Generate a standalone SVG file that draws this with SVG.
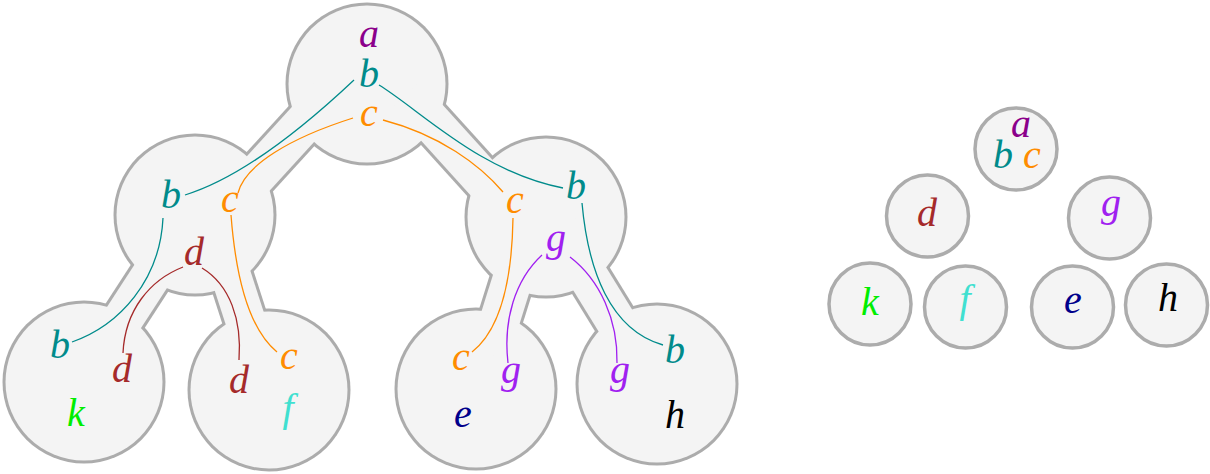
<svg xmlns="http://www.w3.org/2000/svg" width="1210" height="474" viewBox="0 0 1210 474">
<style>
.ol{fill:#acacac}
.olb{stroke:#acacac;stroke-width:46;fill:none}
.fl{fill:#f4f4f4}
.flb{stroke:#f4f4f4;stroke-width:40;fill:none}
.sm{fill:#f4f4f4;stroke:#acacac;stroke-width:3.5}
text{font-family:"Liberation Serif","DejaVu Serif",serif;font-style:italic;font-size:40px;text-anchor:middle}
.ca{fill:#8b008b}.cb{fill:#008b8b}.cc{fill:#ff8c00}.cd{fill:#a52a2a}.cg{fill:#a020f0}
.ck{fill:#00ee00}.cf{fill:#40e0d0}.ce{fill:#00008b}.ch{fill:#000}
.e{fill:none;stroke-width:1.3}
.tb{stroke:#008b8b}.tc{stroke:#ff8c00}.td{stroke:#a52a2a}.tg{stroke:#a020f0}
</style>
<g id="tree-shape">
<g id="outline">
<circle class="ol" cx="367" cy="84" r="81.5"/>
<circle class="ol" cx="195" cy="215" r="81.5"/>
<circle class="ol" cx="546" cy="217" r="81.5"/>
<circle class="ol" cx="84" cy="382" r="81.5"/>
<circle class="ol" cx="269" cy="390" r="81.5"/>
<circle class="ol" cx="476" cy="389" r="81.5"/>
<circle class="ol" cx="657" cy="384" r="81.5"/>
<line class="olb" x1="328.5" y1="96.4" x2="234.1" y2="199.9"/>
<line class="olb" x1="406.2" y1="94.4" x2="506.8" y2="205.5"/>
<line class="olb" x1="171.8" y1="243.9" x2="106.4" y2="344.6"/>
<line class="olb" x1="217.6" y1="234.4" x2="257.6" y2="358.2"/>
<line class="olb" x1="531" y1="220.6" x2="489" y2="354.2"/>
<line class="olb" x1="559" y1="228.9" x2="632.4" y2="348.2"/>
</g>
<g id="fill">
<circle class="fl" cx="367" cy="84" r="78.5"/>
<circle class="fl" cx="195" cy="215" r="78.5"/>
<circle class="fl" cx="546" cy="217" r="78.5"/>
<circle class="fl" cx="84" cy="382" r="78.5"/>
<circle class="fl" cx="269" cy="390" r="78.5"/>
<circle class="fl" cx="476" cy="389" r="78.5"/>
<circle class="fl" cx="657" cy="384" r="78.5"/>
<line class="flb" x1="328.5" y1="96.4" x2="234.1" y2="199.9"/>
<line class="flb" x1="406.2" y1="94.4" x2="506.8" y2="205.5"/>
<line class="flb" x1="171.8" y1="243.9" x2="106.4" y2="344.6"/>
<line class="flb" x1="217.6" y1="234.4" x2="257.6" y2="358.2"/>
<line class="flb" x1="531" y1="220.6" x2="489" y2="354.2"/>
<line class="flb" x1="559" y1="228.9" x2="632.4" y2="348.2"/>
</g>
</g>
<g id="connectors">
<path class="e tb" d="M354,80 C320,112 250,175 185,195"/>
<path class="e tb" d="M379,85 C420,110 480,172 563,188"/>
<path class="e tb" d="M163,218 C160,280 120,325 72,342"/>
<path class="e tb" d="M582,203 C588,270 610,330 663,345"/>
<path class="e tc" d="M353,118 C290,138 245,165 238,193"/>
<path class="e tc" d="M383,120 C440,135 480,165 503,192"/>
<path class="e tc" d="M231,215 C236,280 250,330 277,352"/>
<path class="e tc" d="M513,218 C512,280 500,330 472,352"/>
<path class="e td" d="M183,267 C150,280 125,310 123,353"/>
<path class="e td" d="M202,268 C230,285 242,320 239,360"/>
<path class="e tg" d="M542,255 C515,280 503,320 508,363"/>
<path class="e tg" d="M570,257 C600,280 618,320 617,363"/>
</g>
<g id="node-abc">
<text class="ca" x="369" y="47">a</text>
<text class="cb" x="369" y="87">b</text>
<text class="cc" x="369" y="126">c</text>
</g>
<g id="node-bcd">
<text class="cb" x="171" y="208">b</text>
<text class="cc" x="230" y="212">c</text>
<text class="cd" x="194" y="265">d</text>
</g>
<g id="node-bcg">
<text class="cb" x="576" y="199">b</text>
<text class="cc" x="515" y="213">c</text>
<text class="cg" x="556" y="251">g</text>
</g>
<g id="node-bdk">
<text class="cb" x="60" y="358">b</text>
<text class="cd" x="122" y="382">d</text>
<text class="ck" x="76" y="426">k</text>
</g>
<g id="node-dcf">
<text class="cd" x="239" y="393">d</text>
<text class="cc" x="289" y="369">c</text>
<text class="cf" x="288" y="421">f</text>
</g>
<g id="node-cge">
<text class="cc" x="461" y="370">c</text>
<text class="cg" x="511" y="383">g</text>
<text class="ce" x="463" y="427">e</text>
</g>
<g id="node-gbh">
<text class="cg" x="620" y="383">g</text>
<text class="cb" x="675" y="363">b</text>
<text class="ch" x="675" y="428">h</text>
</g>
<g id="small-a">
<circle class="sm" cx="1016" cy="149" r="41"/>
<text class="ca" x="1021" y="137">a</text>
<text class="cb" x="1003" y="168">b</text>
<text class="cc" x="1032" y="168">c</text>
</g>
<g id="small-d">
<circle class="sm" cx="927.5" cy="216" r="41"/>
<text class="cd" x="927" y="226">d</text>
</g>
<g id="small-g">
<circle class="sm" cx="1109.5" cy="218" r="41"/>
<text class="cg" x="1111" y="216">g</text>
</g>
<g id="small-k">
<circle class="sm" cx="870" cy="304" r="41"/>
<text class="ck" x="870" y="315">k</text>
</g>
<g id="small-f">
<circle class="sm" cx="965.5" cy="307" r="41"/>
<text class="cf" x="965" y="312">f</text>
</g>
<g id="small-e">
<circle class="sm" cx="1072.5" cy="307" r="41"/>
<text class="ce" x="1073" y="313">e</text>
</g>
<g id="small-h">
<circle class="sm" cx="1166.5" cy="305" r="41"/>
<text class="ch" x="1168" y="311">h</text>
</g>
</svg>
